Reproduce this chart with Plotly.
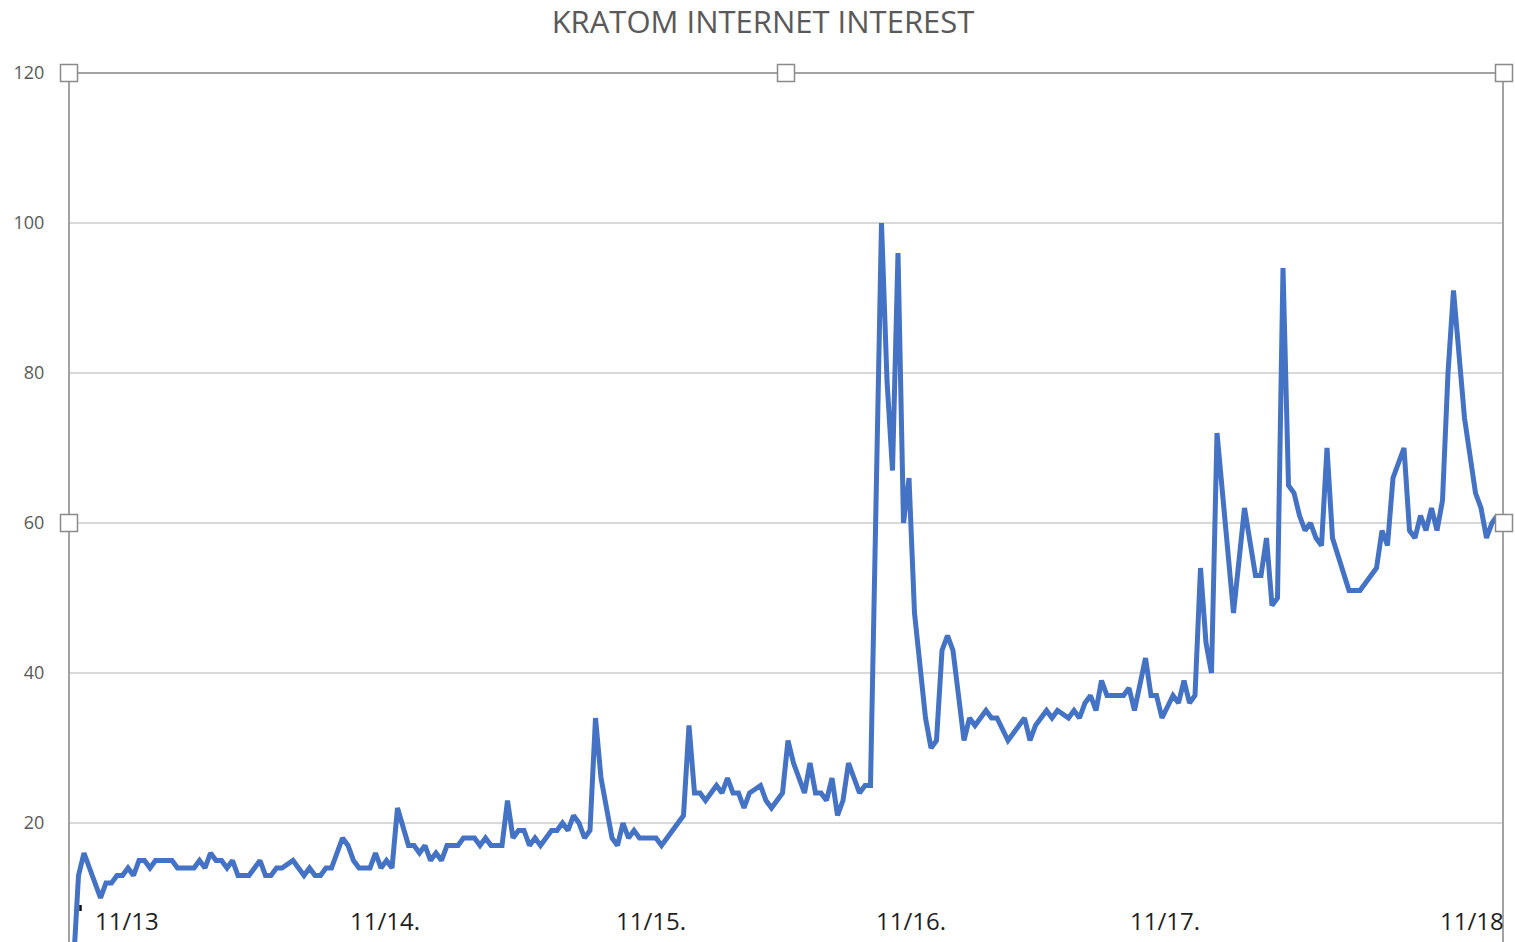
import plotly.graph_objects as go

# Weekly search interest (week number since the start of the series, index value 0-100)
week = [0, 1, 2, 5, 6, 7, 8, 9, 10, 11, 12, 13, 14, 15, 18, 19, 22, 23, 24, 25, 26, 27, 28, 29, 30,
        32, 33, 34, 35, 36, 37, 38, 40, 41, 42, 43, 44, 45, 46, 47, 49, 50, 51, 52, 54, 55, 56, 57,
        58, 59, 61, 62, 63, 64, 65, 66, 67, 68, 70, 71, 73, 74, 75, 76, 78, 79, 80, 81, 82, 83, 84,
        85, 87, 88, 89, 90, 91, 92, 93, 94, 95, 96, 98, 99, 100, 101, 102, 103, 106, 107, 110, 111,
        112, 113, 114, 115, 117, 118, 119, 120, 121, 122, 123, 125, 126, 127, 128, 129, 130, 131,
        133, 134, 135, 136, 137, 138, 139, 140, 141, 143, 144, 145, 147, 148, 149, 150, 151, 152,
        153, 155, 156, 157, 158, 159, 160, 162, 163, 164, 166, 167, 168, 170, 171, 173, 174, 175,
        177, 178, 179, 181, 182, 183, 184, 185, 186, 187, 188, 191, 192, 193, 195, 196, 197, 198,
        200, 201, 202, 203, 204, 205, 206, 207, 208, 210, 211, 213, 215, 216, 217, 218, 219, 220,
        221, 222, 223, 224, 225, 226, 227, 228, 229, 232, 234, 237, 238, 239, 240, 242, 243, 244,
        245, 246, 247, 248, 249, 250, 251, 253, 255, 256, 257, 258, 259]

interest = [0, 13, 16, 10, 12, 12, 13, 13, 14, 13, 15, 15, 14, 15, 15, 14, 14, 15, 14, 16, 15, 15, 14, 15, 13,
            13, 14, 15, 13, 13, 14, 14, 15, 14, 13, 14, 13, 13, 14, 14, 18, 17, 15, 14, 14, 16, 14, 15,
            14, 22, 17, 17, 16, 17, 15, 16, 15, 17, 17, 18, 18, 17, 18, 17, 17, 23, 18, 19, 19, 17, 18,
            17, 19, 19, 20, 19, 21, 20, 18, 19, 34, 26, 18, 17, 20, 18, 19, 18, 18, 17, 20, 21,
            33, 24, 24, 23, 25, 24, 26, 24, 24, 22, 24, 25, 23, 22, 23, 24, 31, 28,
            24, 28, 24, 24, 23, 26, 21, 23, 28, 24, 25, 25, 100, 79, 67, 96, 60, 66,
            48, 34, 30, 31, 43, 45, 43, 31, 34, 33, 35, 34, 34, 31, 32, 34, 31, 33,
            35, 34, 35, 34, 35, 34, 36, 37, 35, 39, 37, 37, 38, 35, 42, 37, 37, 34,
            37, 36, 39, 36, 37, 54, 44, 40, 72, 56, 48, 62, 53, 53, 58, 49, 50, 94,
            65, 64, 61, 59, 60, 58, 57, 70, 58, 51, 51, 54, 59, 57, 66, 70, 59, 58,
            61, 59, 62, 59, 63, 80, 91, 74, 64, 62, 58, 60, 61]

# Year labels along the bottom of the chart
year_labels = ["11/13", "11/14.", "11/15.", "11/16.", "11/17.", "11/18"]
year_label_weeks = [9.9, 56.7, 105.1, 152.4, 198.5, 254.4]

W, H = 1515, 942
L, R, T, B = 70, 13, 73, 0
plot_w = W - L - R
plot_h = H - T - B
PX_PER_WEEK = 5.5
PX_PER_UNIT = 7.5
x_lo = -3 / PX_PER_WEEK
x_hi = x_lo + plot_w / PX_PER_WEEK
y_hi = 120
y_lo = y_hi - plot_h / PX_PER_UNIT

FRAME = "#a3a3a3"
GRID = "#d9d9d9"


def paper_x(px):
    return (px - L) / plot_w


def paper_y(py):
    return (H - B - py) / plot_h


fig = go.Figure()
fig.add_trace(go.Scatter(
    x=week, y=interest, mode="lines",
    line=dict(color="#4472C4", width=5),
    hoverinfo="x+y", showlegend=False,
))

shapes = [
    # top edge of the selected plot area
    dict(type="line", xref="paper", yref="paper", x0=0, x1=1, y0=1, y1=1,
         line=dict(color=FRAME, width=2), layer="above"),
    # small tick mark beside the first label
    dict(type="line", xref="paper", yref="paper",
         x0=paper_x(80.5), x1=paper_x(80.5), y0=paper_y(905), y1=paper_y(911),
         line=dict(color="#111111", width=2.5), layer="above"),
]

# selection handles around the plot area
handle_centers = [(69, 73), (786, 73), (1504, 73), (69, 523), (1504, 523)]
half = 8.5
for cx, cy in handle_centers:
    shapes.append(dict(
        type="rect", xref="paper", yref="paper",
        x0=paper_x(cx - half), x1=paper_x(cx + half),
        y0=paper_y(cy + half), y1=paper_y(cy - half),
        fillcolor="white", line=dict(color="#8a8a8a", width=1.5), layer="above",
    ))

annotations = []
for lab, wk in zip(year_labels, year_label_weeks):
    annotations.append(dict(
        x=wk, xref="x", y=paper_y(920), yref="paper",
        text=lab, showarrow=False, xanchor="center", yanchor="middle",
        font=dict(family="Open Sans", size=24, color="#1f1f1f"),
    ))

fig.update_layout(
    width=W, height=H,
    margin=dict(l=L, r=R, t=T, b=B, pad=0),
    paper_bgcolor="white", plot_bgcolor="white",
    title=dict(
        text="KRATOM INTERNET INTEREST",
        x=763 / W, xref="container", xanchor="center",
        y=1 - 22 / H, yref="container", yanchor="middle",
        font=dict(family="Open Sans", size=31, color="#595959"),
    ),
    xaxis=dict(
        range=[x_lo, x_hi], showgrid=False, zeroline=False,
        showticklabels=False, ticks="", showline=False, fixedrange=True,
    ),
    yaxis=dict(
        range=[y_lo, y_hi], tickvals=[20, 40, 60, 80, 100, 120],
        showgrid=True, gridcolor=GRID, gridwidth=1.5, zeroline=False,
        showline=True, mirror=True, linecolor=FRAME, linewidth=2,
        ticks="", ticklabelstandoff=20,
        tickfont=dict(family="Open Sans", size=18, color="#595959"),
        fixedrange=True,
    ),
    shapes=shapes,
    annotations=annotations,
    font=dict(family="Open Sans"),
)

fig.write_html("out.html", config={"displayModeBar": False})
